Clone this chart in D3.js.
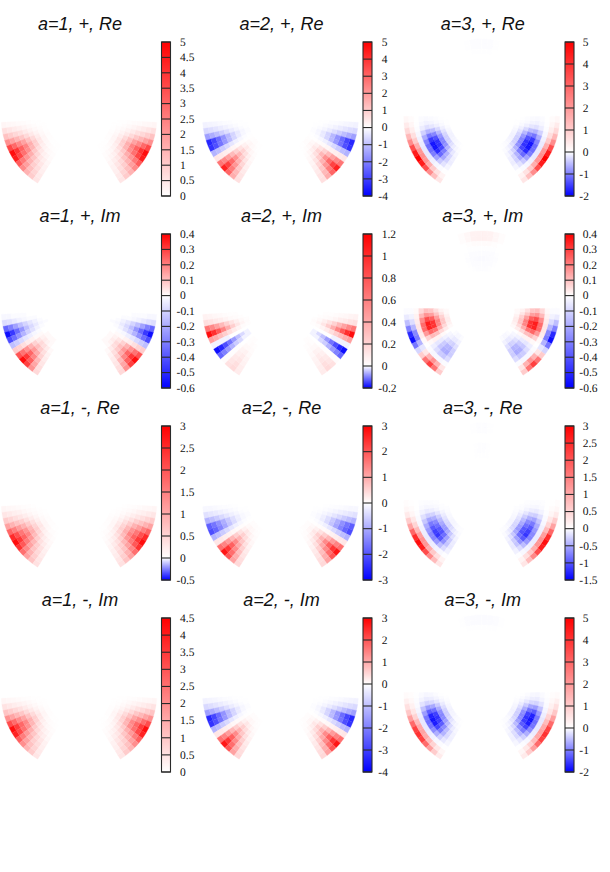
<!DOCTYPE html>
<html><head><meta charset="utf-8">
<script src="https://cdnjs.cloudflare.com/ajax/libs/d3/7.8.5/d3.min.js"></script>
<style>html,body{margin:0;padding:0;background:#fff}svg{display:block}</style>
</head><body><svg id="c" width="610" height="872"></svg>
<script>
const titles=[["a=1, +, Re","a=2, +, Re","a=3, +, Re"],["a=1, +, Im","a=2, +, Im","a=3, +, Im"],["a=1, -, Re","a=2, -, Re","a=3, -, Re"],["a=1, -, Im","a=2, -, Im","a=3, -, Im"]];
const ticks_a1pRe=[0,.5,1,1.5,2,2.5,3,3.5,4,4.5,5];
const ticks_a2pRe=[-4,-3,-2,-1,0,1,2,3,4,5];
const ticks_a3pRe=[-2,-1,0,1,2,3,4,5];
const ticks_a1pIm=[-.6,-.5,-.4,-.3,-.2,-.1,0,.1,.2,.3,.4];
const ticks_a2pIm=[-.2,0,.2,.4,.6,.8,1,1.2];
const ticks_a3pIm=[-.6,-.5,-.4,-.3,-.2,-.1,0,.1,.2,.3,.4];
const ticks_a1mRe=[-.5,0,.5,1,1.5,2,2.5,3];
const ticks_a2mRe=[-3,-2,-1,0,1,2,3];
const ticks_a3mRe=[-1.5,-1,-.5,0,.5,1,1.5,2,2.5,3];
const ticks_a1mIm=[0,.5,1,1.5,2,2.5,3,3.5,4,4.5];
const ticks_a2mIm=[-4,-3,-2,-1,0,1,2,3];
const ticks_a3mIm=[-2,-1,0,1,2,3,4,5];

// rows: polar-angle bins from the horizontal down towards the bottom; columns: radial bins, rim inwards
const a1pRe=[
[.2,.16,.13,.1,.07,.04,.02,.01,0],
[.6,.49,.38,.3,.2,.12,.06,.02,.01],
[1.2,.98,.77,.6,.4,.24,.12,.05,.01],
[2.2,1.8,1.41,1.1,.73,.44,.22,.09,.02],
[3.6,2.95,2.3,1.8,1.19,.72,.36,.14,.04],
[4.8,3.94,3.07,2.4,1.58,.96,.48,.19,.05],
[4.4,3.61,2.82,2.2,1.45,.88,.44,.18,.04],
[3.2,2.62,2.05,1.6,1.06,.64,.32,.13,.03],
[2.3,1.89,1.47,1.15,.76,.46,.23,.09,.02],
[1.5,1.23,.96,.75,.5,.3,.15,.06,.02],
[1,.82,.64,.5,.33,.2,.1,.04,.01],
[.5,.41,.32,.25,.17,.1,.05,.02,.01]];
const a2pRe=[
[-.2,-.17,-.14,-.1,-.07,-.04,-.02,-.01,0],
[-.6,-.52,-.41,-.3,-.2,-.12,-.06,-.02,-.01],
[-1.5,-1.29,-1.02,-.75,-.5,-.3,-.15,-.06,-.02],
[-3.4,-2.92,-2.31,-1.7,-1.12,-.68,-.34,-.14,-.05],
[-3.2,-2.75,-2.18,-1.6,-1.06,-.64,-.32,-.13,-.05],
[-1.2,-1.03,-.82,-.6,-.4,-.24,-.12,-.05,-.02],
[.5,.43,.34,.25,.17,.1,.05,.02,.01],
[2.7,2.32,1.84,1.35,.89,.54,.27,.11,.04],
[4.3,3.7,2.92,2.15,1.42,.86,.43,.17,.06],
[3,2.58,2.04,1.5,.99,.6,.3,.12,.05],
[1.6,1.38,1.09,.8,.53,.32,.16,.06,.02],
[.6,.52,.41,.3,.2,.12,.06,.02,.01]];
const a3pRe=[
[.4,.18,-.01,-.06,-.1,-.09,-.05,-.02,-.01],
[.75,.34,-.02,-.14,-.24,-.2,-.12,-.05,-.01],
[1.4,.63,-.06,-.36,-.59,-.51,-.3,-.12,-.03],
[2.25,1.01,-.11,-.66,-1.08,-.94,-.55,-.22,-.06],
[3.5,1.58,-.16,-.96,-1.57,-1.36,-.8,-.32,-.08],
[4.5,2.03,-.19,-1.14,-1.86,-1.62,-.95,-.38,-.1],
[4.9,2.2,-.19,-1.14,-1.86,-1.62,-.95,-.38,-.1],
[4.5,2.03,-.17,-1.02,-1.67,-1.45,-.85,-.34,-.09],
[3.5,1.58,-.12,-.72,-1.18,-1.02,-.6,-.24,-.06],
[2.25,1.01,-.07,-.42,-.69,-.6,-.35,-.14,-.04],
[1.25,.56,-.04,-.22,-.35,-.31,-.18,-.07,-.02],
[.5,.23,-.01,-.08,-.14,-.12,-.07,-.03,-.01]];
const a1pIm=[
[-.02,-.02,-.01,-.01,-.01,0,0,0,0],
[-.08,-.07,-.05,-.03,-.02,-.01,-.01,0,0],
[-.36,-.3,-.22,-.15,-.1,-.06,-.03,-.01,0],
[-.57,-.47,-.35,-.25,-.15,-.09,-.05,-.02,-.01],
[-.42,-.34,-.26,-.18,-.11,-.07,-.03,-.01,0],
[-.15,-.12,-.09,-.06,-.04,-.02,-.01,0,0],
[.08,.07,.05,.03,.02,.01,.01,0,0],
[.27,.22,.17,.12,.07,.04,.02,.01,0],
[.38,.31,.24,.16,.1,.06,.03,.01,0],
[.3,.25,.19,.13,.08,.05,.02,.01,0],
[.17,.14,.11,.07,.05,.03,.01,.01,0],
[.06,.05,.04,.03,.02,.01,0,0,0]];
const a2pIm=[
[.06,.05,.04,.03,.02,.01,.01,0,0],
[.15,.13,.1,.08,.05,.03,.02,.01,0],
[.65,.56,.44,.33,.21,.13,.07,.03,.01],
[1.15,.99,.78,.58,.38,.23,.12,.05,.02],
[.45,.39,.31,.23,.15,.09,.05,.02,.01],
[-.01,-.01,-.01,-.01,0,0,0,0,0],
[-.19,-.17,-.14,-.11,-.08,-.05,-.03,-.01,0],
[-.12,-.1,-.08,-.06,-.04,-.03,-.01,-.01,0],
[.02,.02,.01,.01,.01,0,0,0,0],
[.14,.12,.1,.07,.05,.03,.01,.01,0],
[.17,.15,.12,.09,.06,.03,.02,.01,0],
[.09,.08,.06,.05,.03,.02,.01,0,0]];
const a3pIm=[
[-.05,-.03,.02,.11,.17,.15,.09,.04,.01],
[-.15,-.08,.03,.18,.28,.25,.15,.07,.02],
[-.3,-.17,.04,.23,.36,.32,.2,.09,.03],
[-.5,-.28,.04,.23,.35,.32,.19,.09,.03],
[-.56,-.31,.03,.16,.24,.22,.13,.06,.02],
[-.32,-.18,.01,.07,.11,.1,.06,.03,.01],
[-.1,-.06,0,.01,.02,.02,.01,0,0],
[.08,.04,-.01,-.04,-.06,-.05,-.03,-.02,0],
[.22,.12,-.02,-.08,-.13,-.12,-.07,-.03,-.01],
[.3,.17,-.02,-.12,-.19,-.17,-.1,-.05,-.02],
[.22,.12,-.02,-.13,-.2,-.18,-.11,-.05,-.02],
[.08,.04,-.01,-.08,-.12,-.11,-.07,-.03,-.01]];
const a1mRe=[
[.12,.1,.08,.06,.04,.02,.01,0,0],
[.3,.25,.19,.15,.1,.06,.03,.01,0],
[.6,.49,.38,.3,.2,.12,.06,.02,.01],
[1.1,.9,.7,.55,.36,.22,.11,.04,.01],
[1.8,1.48,1.15,.9,.59,.36,.18,.07,.02],
[2.5,2.05,1.6,1.25,.83,.5,.25,.1,.03],
[2.85,2.34,1.82,1.43,.94,.57,.29,.11,.03],
[2.4,1.97,1.54,1.2,.79,.48,.24,.1,.02],
[1.7,1.39,1.09,.85,.56,.34,.17,.07,.02],
[1.1,.9,.7,.55,.36,.22,.11,.04,.01],
[.7,.57,.45,.35,.23,.14,.07,.03,.01],
[.35,.29,.22,.18,.12,.07,.04,.01,0]];
const a2mRe=[
[-.1,-.09,-.07,-.05,-.03,-.02,-.01,0,0],
[-.35,-.3,-.24,-.18,-.12,-.07,-.04,-.01,-.01],
[-.9,-.77,-.61,-.45,-.3,-.18,-.09,-.04,-.01],
[-1.9,-1.63,-1.29,-.95,-.63,-.38,-.19,-.08,-.03],
[-2.1,-1.81,-1.43,-1.05,-.69,-.42,-.21,-.08,-.03],
[-.9,-.77,-.61,-.45,-.3,-.18,-.09,-.04,-.01],
[.3,.26,.2,.15,.1,.06,.03,.01,0],
[1.7,1.46,1.16,.85,.56,.34,.17,.07,.03],
[2.75,2.37,1.87,1.38,.91,.55,.28,.11,.04],
[2,1.72,1.36,1,.66,.4,.2,.08,.03],
[1.1,.95,.75,.55,.36,.22,.11,.04,.02],
[.45,.39,.31,.23,.15,.09,.05,.02,.01]];
const a3mRe=[
[.1,.05,0,-.03,-.05,-.04,-.03,-.01,0],
[.25,.11,-.01,-.07,-.12,-.1,-.06,-.02,-.01],
[.6,.27,-.03,-.18,-.29,-.26,-.15,-.06,-.02],
[1.1,.5,-.05,-.33,-.54,-.47,-.28,-.11,-.03],
[1.8,.81,-.08,-.48,-.78,-.68,-.4,-.16,-.04],
[2.5,1.13,-.1,-.6,-.98,-.85,-.5,-.2,-.05],
[2.85,1.28,-.12,-.69,-1.13,-.98,-.58,-.23,-.06],
[2.7,1.22,-.12,-.72,-1.18,-1.02,-.6,-.24,-.06],
[2.1,.95,-.1,-.6,-.98,-.85,-.5,-.2,-.05],
[1.4,.63,-.07,-.39,-.64,-.55,-.33,-.13,-.03],
[.8,.36,-.04,-.21,-.34,-.3,-.18,-.07,-.02],
[.3,.14,-.01,-.08,-.13,-.11,-.07,-.03,-.01]];
const a1mIm=[
[.18,.15,.12,.09,.06,.04,.02,.01,0],
[.5,.41,.32,.25,.17,.1,.05,.02,.01],
[1.05,.86,.67,.53,.35,.21,.11,.04,.01],
[1.95,1.6,1.25,.98,.64,.39,.2,.08,.02],
[3.15,2.58,2.02,1.58,1.04,.63,.32,.13,.03],
[4.2,3.44,2.69,2.1,1.39,.84,.42,.17,.04],
[3.9,3.2,2.5,1.95,1.29,.78,.39,.16,.04],
[2.8,2.3,1.79,1.4,.92,.56,.28,.11,.03],
[2,1.64,1.28,1,.66,.4,.2,.08,.02],
[1.3,1.07,.83,.65,.43,.26,.13,.05,.01],
[.9,.74,.58,.45,.3,.18,.09,.04,.01],
[.45,.37,.29,.23,.15,.09,.05,.02,0]];
const a2mIm=[
[-.2,-.17,-.14,-.1,-.07,-.04,-.02,-.01,0],
[-.6,-.52,-.41,-.3,-.2,-.12,-.06,-.02,-.01],
[-1.5,-1.29,-1.02,-.75,-.5,-.3,-.15,-.06,-.02],
[-3.4,-2.92,-2.31,-1.7,-1.12,-.68,-.34,-.14,-.05],
[-3.2,-2.75,-2.18,-1.6,-1.06,-.64,-.32,-.13,-.05],
[-1.2,-1.03,-.82,-.6,-.4,-.24,-.12,-.05,-.02],
[.3,.26,.2,.15,.1,.06,.03,.01,0],
[1.7,1.46,1.16,.85,.56,.34,.17,.07,.03],
[2.75,2.37,1.87,1.38,.91,.55,.28,.11,.04],
[2,1.72,1.36,1,.66,.4,.2,.08,.03],
[1.1,.95,.75,.55,.36,.22,.11,.04,.02],
[.45,.39,.31,.23,.15,.09,.05,.02,.01]];
const a3mIm=[
[.3,.14,-.02,-.09,-.15,-.13,-.08,-.03,-.01],
[.6,.27,-.04,-.21,-.34,-.3,-.18,-.07,-.02],
[1.1,.5,-.08,-.48,-.78,-.68,-.4,-.16,-.04],
[1.9,.86,-.13,-.78,-1.27,-1.11,-.65,-.26,-.07],
[2.9,1.31,-.18,-1.05,-1.72,-1.49,-.88,-.35,-.09],
[3.7,1.67,-.19,-1.14,-1.86,-1.62,-.95,-.38,-.1],
[4,1.8,-.18,-1.08,-1.76,-1.53,-.9,-.36,-.09],
[3.7,1.67,-.15,-.9,-1.47,-1.28,-.75,-.3,-.08],
[2.9,1.31,-.11,-.63,-1.03,-.89,-.53,-.21,-.05],
[1.9,.86,-.06,-.36,-.59,-.51,-.3,-.12,-.03],
[1,.45,-.03,-.18,-.29,-.26,-.15,-.06,-.02],
[.4,.18,-.01,-.07,-.12,-.1,-.06,-.02,-.01]];
// bin just above the main wedge on the a=3 discs
const cap_a3pRe=[.15,.07,0,-.03,-.05,-.04,-.02,-.01,0];
const cap_a3pIm=[-.01,-.01,.01,.06,.1,.09,.05,.02,.01];
const cap_a3mRe=[.03,.01,0,-.01,-.02,-.02,-.01,0,0];
const cap_a3mIm=[.1,.05,-.01,-.04,-.07,-.06,-.03,-.01,0];
// faint lobes at the top of the a=3 discs: rows outward from the vertical
const top_a3pRe=[[-.02,-.02,-.01,0,0,0,0,0,0],[-.02,-.02,-.01,0,0,0,0,0,0],[-.01,-.01,0,0,0,0,0,0,0]];
const top_a3pIm=[[.02,.022,.006,-.003,-.008,-.012,-.008,-.005,0],[.02,.02,.006,-.003,-.008,-.01,-.007,-.004,0],[.012,.012,.003,-.003,-.006,-.008,-.006,-.003,0],[.005,.005,0,0,-.003,-.004,-.003,0,0]];
const top_a3mRe=[[-.01,-.01,0,0,-.01,-.012,-.008,0,0],[-.008,-.008,0,0,-.005,-.008,-.005,0,0]];
const top_a3mIm=[[-.03,-.03,-.01,0,0,0,0,0,0],[-.03,-.03,-.01,0,0,0,0,0,0],[-.02,-.02,-.005,0,0,0,0,0,0],[-.01,-.01,0,0,0,0,0,0,0]];

const panels=[
[a1pRe,ticks_a1pRe,null,null],[a2pRe,ticks_a2pRe,null,null],[a3pRe,ticks_a3pRe,top_a3pRe,cap_a3pRe],
[a1pIm,ticks_a1pIm,null,null],[a2pIm,ticks_a2pIm,null,null],[a3pIm,ticks_a3pIm,top_a3pIm,cap_a3pIm],
[a1mRe,ticks_a1mRe,null,null],[a2mRe,ticks_a2mRe,null,null],[a3mRe,ticks_a3mRe,top_a3mRe,cap_a3mRe],
[a1mIm,ticks_a1mIm,null,null],[a2mIm,ticks_a2mIm,null,null],[a3mIm,ticks_a3mIm,top_a3mIm,cap_a3mIm]];

// layout
const cx=[79,280.5,481.7], barX=[161.5,363,565], labelX=[180,381.7,582.7];
const rowH=192, cy0=117, barTop=42, barBottom=196, barW=9, titleY=29.5;
const svg=d3.select("#c");
svg.append("defs").append("filter").attr("id","soft").attr("x","-10%").attr("y","-10%").attr("width","120%").attr("height","120%")
  .append("feGaussianBlur").attr("stdDeviation",0.7);
const angle=d3.scaleLinear().domain([0,12]).range([86,32]);
const topAngle=d3.scaleLinear().domain([0,4]).range([0,18]);
const radius=d3.scaleLinear().domain([0,9]).range([78,33]);
const rad=d=>d*Math.PI/180;
const arc=d3.arc();
panels.forEach(([rows,ticks,top,cap],k)=>{
  const col=k%3,row=Math.floor(k/3),dy=row*rowH;
  const lo=ticks[0],hi=ticks[ticks.length-1];
  const color=d3.scaleLinear().domain([lo,0,hi]).range(["#0000ff","#ffffff","#ff0000"]).clamp(true);
  const heat=svg.append("g").attr("filter","url(#soft)").attr("transform",`translate(${cx[col]},${cy0+dy})`);
  const cell=(a0,a1,j,v)=>heat.append("path")
    .attr("d",arc({innerRadius:radius(j+1),outerRadius:radius(j),startAngle:rad(a0),endAngle:rad(a1)}))
    .attr("fill",color(v)).attr("stroke",color(v)).attr("stroke-width",0.3);
  [1,-1].forEach(side=>{
    rows.forEach((vals,i)=>vals.forEach((v,j)=>{
      if(v===0)return;
      cell(side*(180-angle(i)),side*(180-angle(i+1)),j,v);
    }));
    if(cap) cap.forEach((v,j)=>{ if(v!==0) cell(side*(180-angle(-1)),side*(180-angle(0)),j,v); });
    if(top) top.forEach((vals,i)=>vals.forEach((v,j)=>{
      if(v===0)return;
      cell(side*topAngle(i),side*topAngle(i+1),j,v);
    }));
  });
  // colour bar
  const y=d3.scaleLinear().domain([lo,hi]).range([barBottom+dy,barTop+dy]);
  const bar=svg.append("g");
  const steps=d3.range(0,154);
  const vAt=d3.scaleLinear().domain([0,154]).range([hi,lo]);
  bar.selectAll("rect.s").data(steps).join("rect").attr("class","s")
    .attr("x",barX[col]).attr("width",barW)
    .attr("y",s=>barTop+dy+s).attr("height",1.2)
    .attr("fill",s=>color(vAt(s+.5)));
  bar.selectAll("line").data(ticks).join("line")
    .attr("x1",barX[col]).attr("x2",barX[col]+barW).attr("y1",d=>y(d)).attr("y2",d=>y(d))
    .attr("stroke","#2a2a2a").attr("stroke-width",1.1);
  bar.append("rect").attr("x",barX[col]).attr("y",barTop+dy).attr("width",barW).attr("height",barBottom-barTop)
    .attr("fill","none").attr("stroke","#2a2a2a").attr("stroke-width",1.1);
  svg.append("g").selectAll("text").data(ticks).join("text")
    .attr("x",d=>labelX[col]-(d<0?3.4:0)).attr("y",d=>y(d)).attr("dy","0.33em")
    .attr("font-family","'Liberation Serif',serif").attr("font-size",11.5).attr("fill","#111")
    .attr("text-rendering","geometricPrecision")
    .text(d=>String(d));
  svg.append("text").attr("x",cx[col]+1).attr("y",titleY+dy).attr("text-anchor","middle")
    .attr("font-family","'Liberation Sans',sans-serif").attr("font-style","italic").attr("font-size",18).attr("fill","#111")
    .text(titles[row][col]);
});
</script></body></html>
